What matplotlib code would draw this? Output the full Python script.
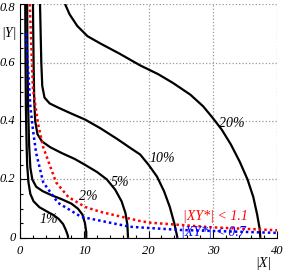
import matplotlib
matplotlib.use("Agg")
from matplotlib import pyplot as plt
from matplotlib.ticker import MultipleLocator

# contour curves (|X|, |Y|)
x_1 = [0.8, 0.85, 0.9, 1.0, 1.1, 1.3, 1.6, 2.1, 3.0, 4.2, 5.2, 6.0, 6.7, 7.1, 7.4, 7.5]
y_1 = [0.80, 0.60, 0.45, 0.33, 0.25, 0.19, 0.15, 0.125, 0.105, 0.09, 0.078, 0.065,
       0.047, 0.028, 0.01, 0.0]

x_2 = [1.1, 1.15, 1.25, 1.4, 1.6, 1.9, 2.5, 3.5, 5.0, 6.5, 8.0, 9.0, 9.7, 10.1, 10.3, 10.3]
y_2 = [0.80, 0.60, 0.45, 0.32, 0.24, 0.20, 0.175, 0.16, 0.145, 0.132, 0.117, 0.10,
       0.08, 0.05, 0.02, 0.0]

x_5 = [2.0, 2.1, 2.2, 2.35, 2.7, 3.4, 4.7, 6.5, 8.5, 10.1, 12.0, 13.5, 14.8, 15.8,
       16.4, 16.7, 16.8]
y_5 = [0.80, 0.60, 0.47, 0.40, 0.355, 0.33, 0.31, 0.29, 0.27, 0.25, 0.225, 0.20,
       0.165, 0.125, 0.085, 0.045, 0.0]

x_10 = [3.1, 3.2, 3.3, 3.45, 3.8, 4.6, 6.0, 8.0, 10.1, 12.5, 15.0, 17.0, 18.7, 20.0,
        21.3, 22.4, 23.3, 24.0, 24.5]
y_10 = [0.80, 0.70, 0.60, 0.52, 0.48, 0.46, 0.445, 0.425, 0.405, 0.375, 0.34, 0.31,
        0.285, 0.25, 0.21, 0.16, 0.106, 0.05, 0.0]

x_20 = [7.0, 7.7, 8.9, 10.5, 12.5, 15.5, 18.7, 21.5, 23.8, 26.5, 28.5, 30.0, 31.4,
        32.8, 34.2, 35.4, 36.3, 36.9, 37.3, 37.4]
y_20 = [0.80, 0.765, 0.725, 0.69, 0.665, 0.63, 0.59, 0.56, 0.53, 0.49, 0.45, 0.41,
        0.37, 0.32, 0.26, 0.20, 0.14, 0.08, 0.03, 0.0]

# |XY*| bounds
x_red = [1.5, 2.0, 2.8, 3.6, 5.6, 7.5, 10.1, 12.5, 18.6, 20.2, 30.0, 40.0]
y_red = [0.80, 0.51, 0.39, 0.31, 0.19, 0.14, 0.106, 0.089, 0.058, 0.052, 0.036, 0.026]

x_blue = [0.9, 1.6, 2.0, 2.5, 3.6, 5.9, 9.5, 17.1, 25.0, 40.0]
y_blue = [0.70, 0.45, 0.37, 0.29, 0.19, 0.12, 0.072, 0.038, 0.027, 0.017]

labels = ['1%', '2%', '5%', '10%', '20%']
label_x = [4.5, 10.6, 15.6, 22.1, 33.0]
label_y = [0.062, 0.14, 0.19, 0.27, 0.39]

serif = ['Liberation Serif', 'DejaVu Serif']

fig = plt.figure(figsize=(2.83, 2.70), dpi=100)
ax = fig.add_axes([0.071, 0.119, 0.908, 0.866])

for xs, ys in [(x_1, y_1), (x_2, y_2), (x_5, y_5), (x_10, y_10), (x_20, y_20)]:
    ax.plot(xs, ys, color='black', lw=1.6, solid_capstyle='butt',
            solid_joinstyle='round')

ax.plot(x_red, y_red, color='red', lw=1.8, linestyle=(0, (1, 1.2)))
ax.plot(x_blue, y_blue, color='blue', lw=1.8, linestyle=(0, (1, 1.2)))

for t, lx, ly in zip(labels, label_x, label_y):
    ax.text(lx, ly, t, ha='center', va='center', fontsize=10,
            family=serif, style='italic')

ax.text(25.3, 0.072, '|XY*| < 1.1', color='red', fontsize=10,
        family=serif, style='italic', va='center')
ax.text(25.1, 0.017, '|XY*| < 0.7', color='blue', fontsize=10,
        family=serif, style='italic', va='center')

ax.set_xlim(0, 40)
ax.set_ylim(0, 0.8)
ax.xaxis.set_major_locator(MultipleLocator(10))
ax.xaxis.set_minor_locator(MultipleLocator(2))
ax.yaxis.set_major_locator(MultipleLocator(0.2))
ax.yaxis.set_minor_locator(MultipleLocator(0.05))
ax.set_xticklabels([])
ax.set_yticklabels([])
ax.tick_params(which='both', direction='in', top=False, right=False)
ax.tick_params(which='major', length=5, width=0.8)
ax.tick_params(which='minor', length=2.5, width=0.8)

for v in [0, 10, 20, 30, 40]:
    ax.text(v, -0.025, str(v), ha='center', va='top', fontsize=9,
            family=serif, style='italic')
for v, s in [(0.0, '0'), (0.2, '0.2'), (0.4, '0.4'), (0.6, '0.6'), (0.785, '0.8')]:
    ax.text(-0.7, v, s, ha='right', va='center', fontsize=9,
            family=serif, style='italic')

ax.grid(True, which='major', color='#999999', linestyle=':', linewidth=0.9)
ax.spines['top'].set_visible(False)
ax.spines['right'].set_visible(False)

fig.text(263 / 283, 1 - 263 / 270, '|X|', ha='center', va='center',
         fontsize=10, family=serif, style='italic')
fig.text(9 / 283, 1 - 33 / 270, '|Y|', ha='center', va='center',
         fontsize=10, family=serif, style='italic')

fig.savefig('out.png', dpi=100)
